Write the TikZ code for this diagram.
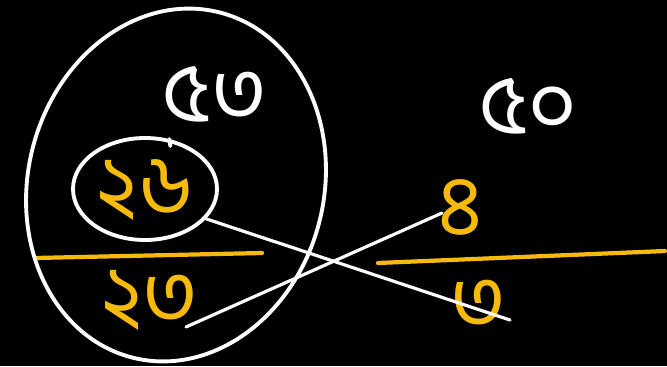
\documentclass[tikz,border=0pt]{standalone}
\usepackage{fontspec}
\usepackage{xcolor}
\newfontfamily\bnfont[Script=Bengali]{Hind Siliguri}
\usetikzlibrary{shapes.geometric}
\definecolor{chalkyellow}{RGB}{246,186,12}

\begin{document}
\begin{tikzpicture}[x=0.02cm, y=-0.02cm, line cap=round,
  every node/.style={font=\bnfont\fontsize{48}{48}\selectfont, inner sep=0pt},
  stroke/.style={white, line width=2.2pt},
  digit/.style={text=chalkyellow},
  total/.style={text=white}]
  \fill[black] (0,0) rectangle (667,366);
  \useasboundingbox (0,0) rectangle (667,366);
  % left fraction
  \node[digit] (num26) at (145,190) {২৬};
  \node[digit] (num23) at (150,300) {২৩};
  \node[total] (sum53) at (215,94) {৫৩};
  % right fraction
  \node[digit] (num4) at (460,207) {৪};
  \node[digit] (num3) at (478,305) {৩};
  \node[total] (sum50) at (528,106) {৫০};
  % fraction bars
  \draw[chalkyellow, line width=2.4pt] (35,258) -- (262,253);
  \draw[chalkyellow, line width=2.4pt] (378,263) -- (665,251);
  % rings
  \node[draw=white, line width=2.2pt, ellipse, minimum width=144*0.02cm, minimum height=102*0.02cm] (oval) at (145,189) {};
  \draw[stroke, rotate around={-14:(176,185)}] (176,185) ellipse [x radius=148, y radius=178];
  \draw[stroke] (oval.64) -- ++(1,7);
  % cross lines
  \coordinate (end3) at (510,320);
  \coordinate (start23) at (186,327);
  \coordinate (end4) at (442,213);
  \draw[stroke, line width=1.8pt] (oval.-26) -- (end3);
  \draw[stroke, line width=1.8pt] (start23) -- (end4);
\end{tikzpicture}
\end{document}
